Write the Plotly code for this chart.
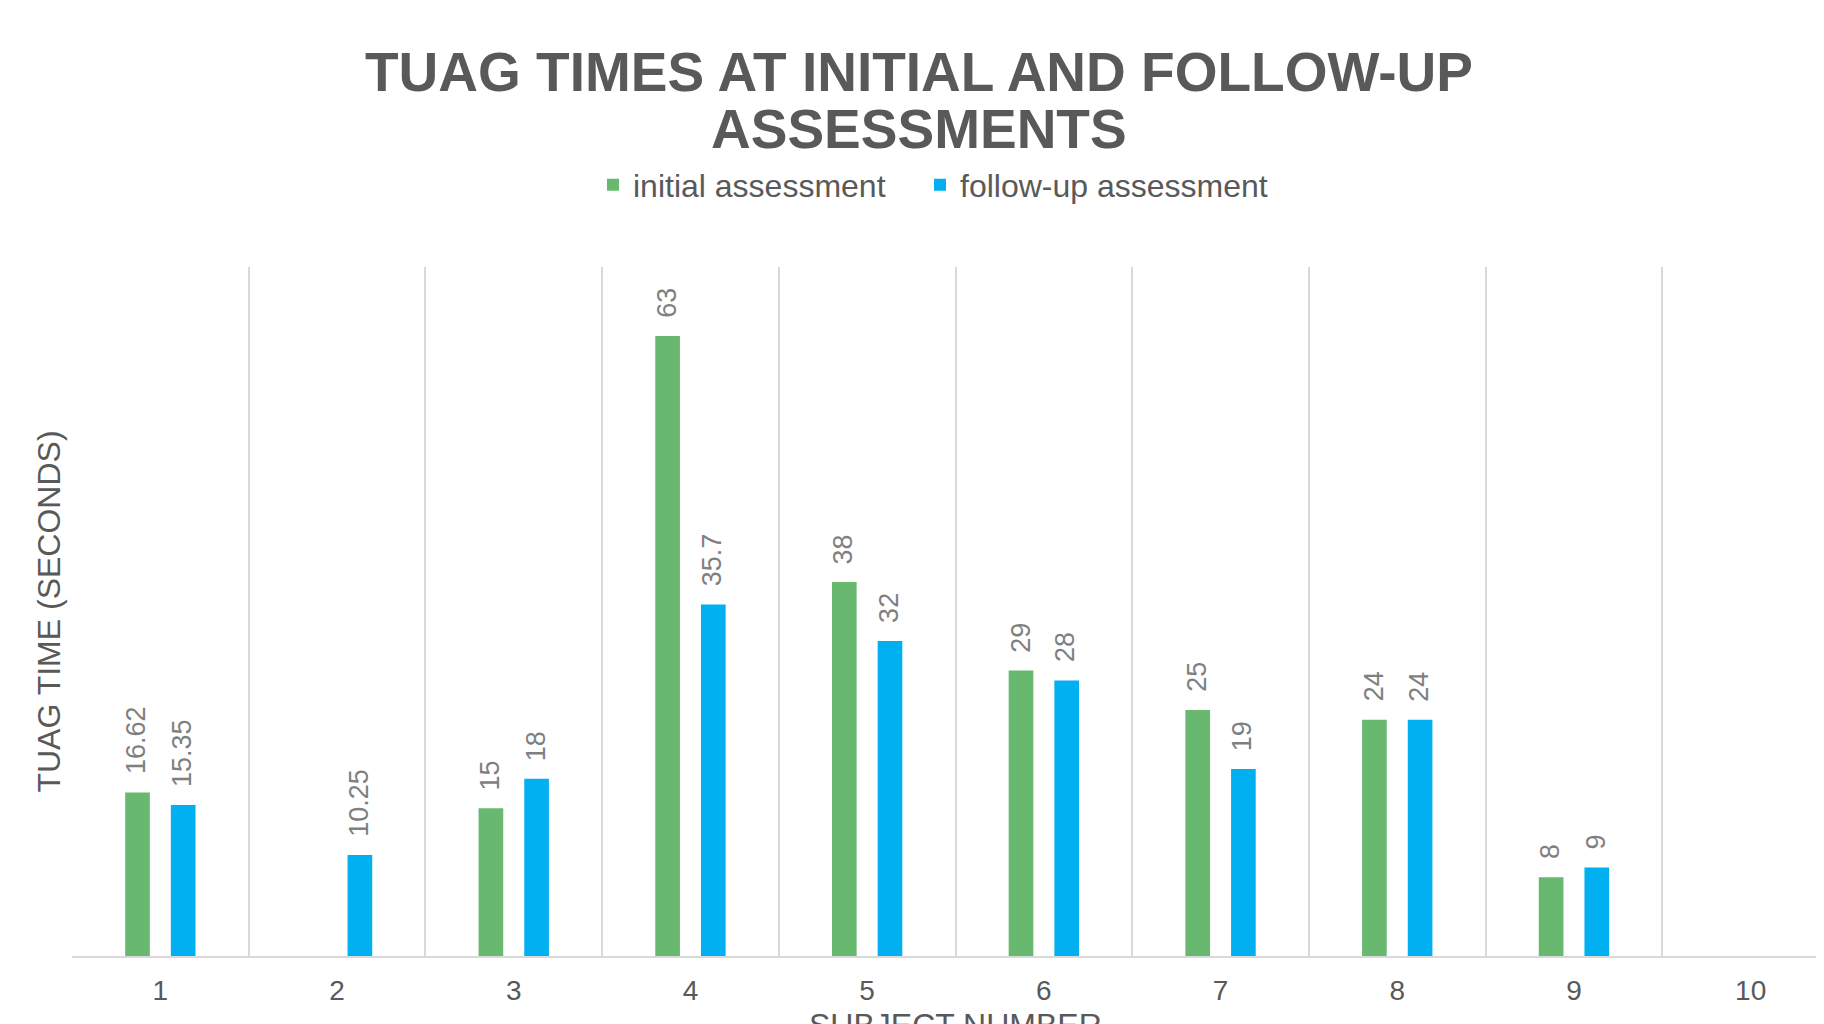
import plotly.graph_objects as go

subjects = ["1", "2", "3", "4", "5", "6", "7", "8", "9", "10"]
initial = [16.62, None, 15, 63, 38, 29, 25, 24, 8, None]
follow_up = [15.35, 10.25, 18, 35.7, 32, 28, 19, 24, 9, None]
series_names = ["initial assessment", "follow-up assessment"]
series_colors = ["#68B86F", "#00B0F0"]
x_title = "SUBJECT NUMBER"
y_title = "TUAG TIME (SECONDS)"

# the page body has an 8px margin; figure coordinates below account for it
W, H = 1824, 1024
ML, MR, MT, MB = 64, 0, 259, 76
CAT_PX = 176.7
x_max = -0.5 + (W - ML - MR) / CAT_PX
plot_w = W - ML - MR
plot_h = H - MT - MB

fig = go.Figure()
for k, (name, vals, col) in enumerate(zip(series_names, [initial, follow_up], series_colors)):
    fig.add_trace(go.Bar(x=subjects, y=vals, name=name, marker_color=col,
                         marker_line_width=0, legend="legend" if k == 0 else "legend2"))

def fmt(v):
    return f"{v:g}"

annotations = []
for vals, shift in [(initial, -22.7), (follow_up, 22.7)]:
    for i, v in enumerate(vals):
        if v is None:
            continue
        annotations.append(dict(x=i, y=v, xref="x", yref="y", text=fmt(v),
                                showarrow=False, textangle=-90, xshift=shift - 1,
                                yshift=16, yanchor="bottom", xanchor="center",
                                font=dict(family="Liberation Sans, Arial", size=27, color="#7F7F7F")))

annotations.append(dict(text="<b>ASSESSMENTS</b>", xref="paper", yref="paper",
                        x=(911 - ML) / plot_w, y=1 + (MT - 121) / plot_h,
                        xanchor="center", yanchor="middle", showarrow=False,
                        font=dict(family="Liberation Sans, Arial", size=55, color="#595959")))
# x-axis title (sits partly below the visible window, as in the reference)
annotations.append(dict(text=x_title, xref="paper", yref="paper",
                        x=(947 - ML) / plot_w, y=-(1017 - (H - MB)) / plot_h,
                        xanchor="center", yanchor="middle", showarrow=False,
                        font=dict(family="Liberation Sans, Arial", size=32, color="#595959")))

legend_common = dict(orientation="h", xref="container", yref="container",
                     xanchor="left", y=1 - 177 / H, yanchor="middle",
                     font=dict(size=32, color="#595959"), itemwidth=30,
                     bgcolor="rgba(0,0,0,0)")

fig.update_layout(
    width=W, height=H,
    margin=dict(l=ML, r=MR, t=MT, b=MB, autoexpand=False),
    paper_bgcolor="white", plot_bgcolor="white",
    barmode="group", bargap=0.483, bargroupgap=0.46,
    font=dict(family="Liberation Sans, Arial", color="#595959"),
    title=dict(text="<b>TUAG TIMES AT INITIAL AND FOLLOW-UP</b>", x=911 / W, xanchor="center",
               y=1 - 64 / H, yanchor="middle", yref="container",
               font=dict(family="Liberation Sans, Arial", size=55, color="#595959")),
    legend=dict(x=585 / W, **legend_common),
    legend2=dict(x=912 / W, **legend_common),
    annotations=annotations,
    showlegend=True,
)
fig.update_xaxes(type="category", range=[-0.5, x_max], tickson="boundaries",
                 showgrid=True, gridcolor="#D9D9D9", gridwidth=2,
                 showline=True, linecolor="#D9D9D9", linewidth=2,
                 ticks="", tickfont=dict(size=28, color="#595959"),
                 ticklabelstandoff=8, automargin=False)
fig.update_yaxes(range=[0, 70], showgrid=False, zeroline=False, showticklabels=False,
                 ticks="", showline=False, automargin=False,
                 title=dict(text=y_title, standoff=0,
                            font=dict(size=32, color="#595959")))

fig.write_html("out.html")
